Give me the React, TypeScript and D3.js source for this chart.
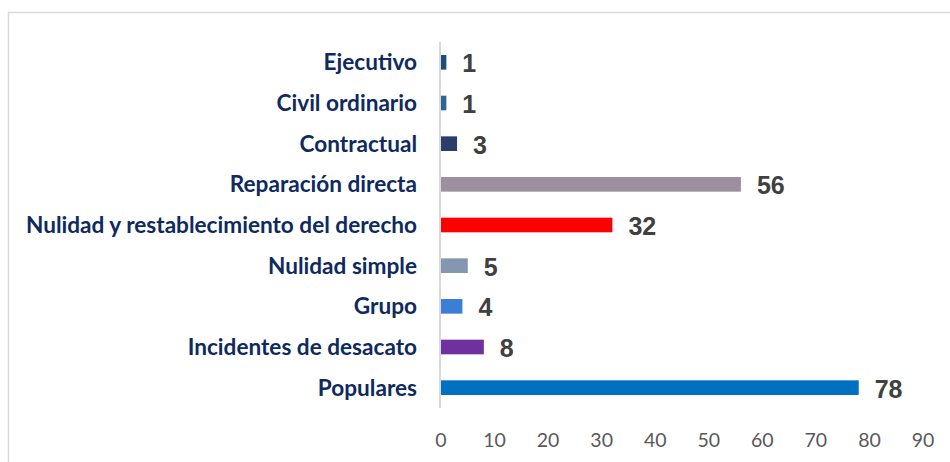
import * as d3 from 'd3';

const categories = [
  'Ejecutivo',
  'Civil ordinario',
  'Contractual',
  'Reparación directa',
  'Nulidad y restablecimiento del derecho',
  'Nulidad simple',
  'Grupo',
  'Incidentes de desacato',
  'Populares',
];
const values = [1, 1, 3, 56, 32, 5, 4, 8, 78];
const barColors = [
  '#1F4E79',
  '#2E6496',
  '#2B3D6B',
  '#9E8FA0',
  '#FF0000',
  '#8496B0',
  '#3A7FD5',
  '#7030A0',
  '#0070C0',
];
const xTicks = [0, 10, 20, 30, 40, 50, 60, 70, 80, 90];

const W = 950;
const H = 462;
const plot = { left: 441, right: 923, top: 42, bottom: 408 };

export default function App() {
  const x = d3.scaleLinear().domain([0, 90]).range([plot.left, plot.right]);
  const y = d3
    .scaleBand<string>()
    .domain(categories)
    .range([plot.top, plot.bottom])
    .paddingInner(0.64)
    .paddingOuter(0.32);

  return (
    <svg width={W} height={H} style={{ position: 'absolute', left: 0, top: 0 }}>
      <rect x={0} y={0} width={W} height={H} fill="#fff" />
      <rect x={8.5} y={12.5} width={1000} height={1000} fill="none" stroke="#D9D9D9" strokeWidth={1.5} />

      {categories.map((c, i) => {
        const yc = (y(c) ?? 0) + y.bandwidth() / 2;
        return (
          <g key={c}>
            <rect
              x={x(0)}
              y={y(c)}
              width={x(values[i]) - x(0)}
              height={y.bandwidth()}
              fill={barColors[i]}
            />
            <text
              x={417}
              y={yc}
              dy="0.36em"
              textAnchor="end"
              fontFamily="Lato, sans-serif"
              fontWeight={700}
              fontSize={22.6}
              fill="#0E2A5E"
            >
              {c}
            </text>
            <text
              x={x(values[i]) + 16}
              y={yc + 1}
              dy="0.36em"
              fontFamily="'Liberation Sans', Arial, sans-serif"
              fontWeight={700}
              fontSize={25}
              fill="#404040"
            >
              {values[i]}
            </text>
          </g>
        );
      })}

      <line x1={440} x2={440} y1={plot.top} y2={plot.bottom} stroke="#D9D9D9" strokeWidth={2} />

      {xTicks.map((t) => (
        <text
          key={t}
          x={x(t)}
          y={447}
          textAnchor="middle"
          fontFamily="Lato, sans-serif"
          fontSize={19.5}
          fill="#595959"
        >
          {t}
        </text>
      ))}
    </svg>
  );
}
